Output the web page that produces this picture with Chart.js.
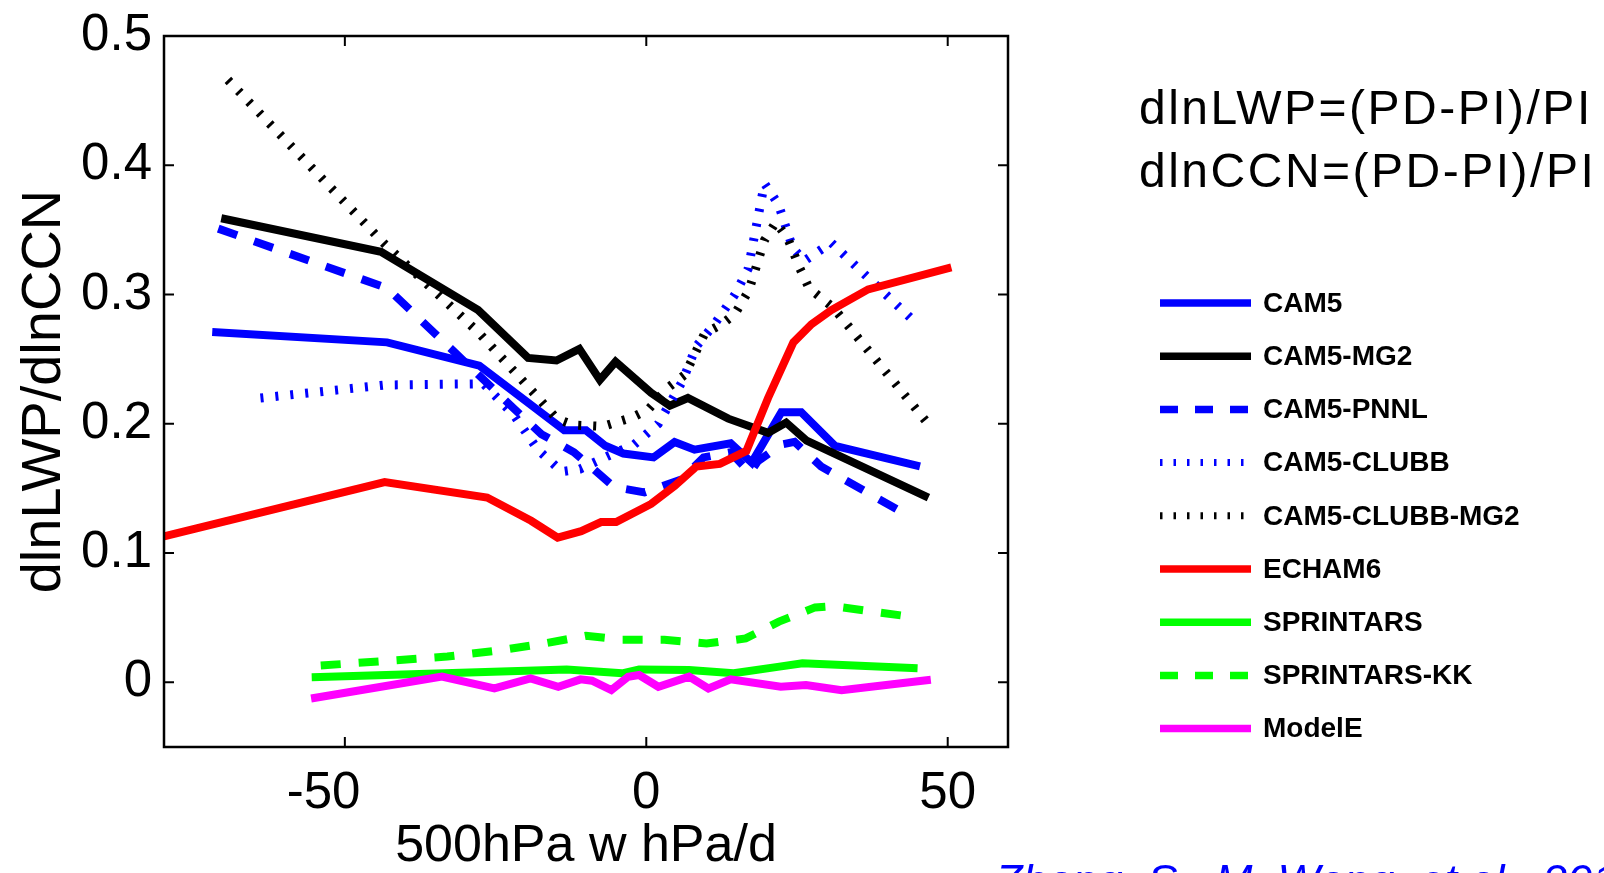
<!DOCTYPE html>
<html lang="en">
<head>
  <meta charset="UTF-8">
  <title>dlnLWP/dlnCCN vs 500hPa w</title>
  <style>
    html, body { margin: 0; padding: 0; background: #fff; overflow: hidden; }
    #chart { display: block; }
  </style>
</head>
<body>
  <canvas id="chart" width="1604" height="873"></canvas>

  <script src="https://cdn.jsdelivr.net/npm/chart.js"></script>
  <script>
    // Values (x = 500hPa omega in hPa/d, y = dlnLWP/dlnCCN)
    const cam5X = [-72, -43, -27.7, -13.6, -10, -6.8, -3.8, 1.2, 4.7, 8, 14, 17.5, 22.4, 25.7, 31.3, 45.4];
    const cam5Y = [0.271, 0.263, 0.245, 0.195, 0.195, 0.183, 0.177, 0.174, 0.186, 0.180, 0.185, 0.170, 0.209, 0.209, 0.183, 0.167];

    const mg2X = [-70.5, -44, -27.9, -19.6, -14.9, -11.1, -7.7, -5.1, 0.8, 3.9, 6.9, 13.6, 20.2, 23.2, 26.6, 46.8];
    const mg2Y = [0.359, 0.333, 0.288, 0.251, 0.249, 0.258, 0.234, 0.248, 0.224, 0.214, 0.220, 0.204, 0.193, 0.201, 0.187, 0.143];

    const pnnlX = [-71, -43, -22, -17.4, -12, -5.3, -0.3, 5.8, 9.5, 14, 17.2, 18.5, 22.4, 24.6, 29, 42.3];
    const pnnlY = [0.351, 0.305, 0.212, 0.192, 0.178, 0.151, 0.147, 0.157, 0.174, 0.178, 0.162, 0.171, 0.184, 0.186, 0.167, 0.132];

    const clubbX = [-64, -43.4, -27, -22, -18, -14, -11, -6.4, -2, 2, 6, 8.3, 11.3, 14.7, 16.9, 19.6, 21.9, 24.3, 26.2, 30.7, 36.8, 44.5];
    const clubbY = [0.220, 0.230, 0.231, 0.207, 0.180, 0.163, 0.165, 0.175, 0.184, 0.200, 0.233, 0.260, 0.277, 0.300, 0.320, 0.386, 0.370, 0.336, 0.326, 0.340, 0.313, 0.279];

    const clubbMg2X = [-69.4, -43.4, -27.7, -22, -18.3, -14.9, -12, -7.2, -2.3, 0.3, 3.6, 6.4, 9.7, 12.5, 14.7, 17, 19.6, 21.5, 23.5, 25.5, 27, 31, 46.4];
    const clubbMg2Y = [0.466, 0.339, 0.270, 0.241, 0.222, 0.204, 0.199, 0.198, 0.205, 0.211, 0.228, 0.238, 0.270, 0.277, 0.285, 0.303, 0.342, 0.356, 0.343, 0.320, 0.305, 0.290, 0.202];

    const echamX = [-80, -43.4, -26.4, -19.1, -14.7, -10.8, -7.5, -5, 0.8, 4.7, 8.3, 12.2, 16.6, 20.2, 24.4, 27.4, 30.7, 36.8, 50.6];
    const echamY = [0.113, 0.155, 0.143, 0.125, 0.112, 0.117, 0.124, 0.124, 0.138, 0.152, 0.167, 0.169, 0.179, 0.220, 0.263, 0.277, 0.288, 0.304, 0.321];

    const sprintarsX = [-55.5, -33.5, -13.2, -4, -1.2, 7.1, 14.5, 21.8, 25.9, 45];
    const sprintarsY = [0.004, 0.007, 0.010, 0.007, 0.010, 0.0095, 0.007, 0.012, 0.0148, 0.011];

    const kkX = [-54, -33, -24, -17, -10, -4, 3, 10, 16.5, 22, 28, 31, 45];
    const kkY = [0.013, 0.020, 0.025, 0.030, 0.036, 0.033, 0.033, 0.030, 0.034, 0.047, 0.058, 0.059, 0.050];

    const modelEX = [-55.6, -33.9, -25.2, -19.2, -14.6, -10.9, -9, -5.8, -3, -1.2, 2, 7.1, 10.3, 14, 22.3, 26.5, 32.4, 47.2];
    const modelEY = [-0.0125, 0.0044, -0.0047, 0.0031, -0.0034, 0.0023, 0.0013, -0.006, 0.0044, 0.0057, -0.0034, 0.0044, -0.0047, 0.0023, -0.0034, -0.002, -0.006, 0.002];

    const xTicks = [-50, 0, 50];
    const yTicks = [0, 0.1, 0.2, 0.3, 0.4, 0.5];

    const FONT = '"Liberation Sans", Arial, Helvetica, sans-serif';
    const SOLID = [];
    const DASH = [20, 18];
    const DOT = [3, 12];

    function pts(xs, ys) {
      return xs.map((x, i) => ({ x: x, y: ys[i] }));
    }

    // [label, xs, ys, colour, dash]
    const series = [
      ['CAM5', cam5X, cam5Y, '#0000ff', SOLID],
      ['CAM5-MG2', mg2X, mg2Y, '#000000', SOLID],
      ['CAM5-PNNL', pnnlX, pnnlY, '#0000ff', DASH],
      ['CAM5-CLUBB', clubbX, clubbY, '#0000ff', DOT],
      ['CAM5-CLUBB-MG2', clubbMg2X, clubbMg2Y, '#000000', DOT],
      ['ECHAM6', echamX, echamY, '#ff0000', SOLID],
      ['SPRINTARS', sprintarsX, sprintarsY, '#00ff00', SOLID],
      ['SPRINTARS-KK', kkX, kkY, '#00ff00', DASH],
      ['ModelE', modelEX, modelEY, '#ff00ff', SOLID]
    ];

    const datasets = series.map((s, i) => ({
      label: s[0],
      data: pts(s[1], s[2]),
      borderColor: s[3],
      backgroundColor: s[3],
      borderDash: s[4],
      borderWidth: s[4] === DOT ? 9 : 8,
      borderCapStyle: 'butt',
      pointRadius: 0,
      tension: 0,
      fill: false,
      order: series.length - i // later series drawn on top, like the original
    }));

    // frame, inward tick marks, legend and the annotation text
    const decorations = {
      id: 'decorations',
      afterDraw(chart) {
        const ctx = chart.ctx;
        const a = chart.chartArea;
        const xs = chart.scales.x, ys = chart.scales.y;
        ctx.save();
        ctx.strokeStyle = '#000';
        ctx.lineWidth = 2.5;
        ctx.setLineDash([]);
        ctx.strokeRect(a.left, a.top, a.right - a.left, a.bottom - a.top);
        ctx.lineWidth = 2;
        const tl = 10;
        ctx.beginPath();
        xTicks.forEach(v => {
          const px = xs.getPixelForValue(v);
          ctx.moveTo(px, a.bottom); ctx.lineTo(px, a.bottom - tl);
          ctx.moveTo(px, a.top); ctx.lineTo(px, a.top + tl);
        });
        yTicks.forEach(v => {
          const py = ys.getPixelForValue(v);
          ctx.moveTo(a.left, py); ctx.lineTo(a.left + tl, py);
          ctx.moveTo(a.right, py); ctx.lineTo(a.right - tl, py);
        });
        ctx.stroke();

        // legend
        const lx0 = 1160, lx1 = 1251, ly0 = 303, dy = 53.2;
        chart.data.datasets.forEach((ds, i) => {
          const y = ly0 + i * dy;
          ctx.strokeStyle = ds.borderColor;
          if (ds.borderDash === DOT) {
            ctx.lineWidth = 7;
            ctx.setLineDash([2.5, 11]);
          } else if (ds.borderDash === DASH) {
            ctx.lineWidth = 7.5;
            ctx.setLineDash([18, 17]);
          } else {
            ctx.lineWidth = 7.5;
            ctx.setLineDash([]);
          }
          ctx.lineCap = 'butt';
          ctx.beginPath();
          ctx.moveTo(lx0, y);
          ctx.lineTo(lx1, y);
          ctx.stroke();
          ctx.fillStyle = '#000';
          ctx.font = 'bold 28px ' + FONT;
          ctx.textAlign = 'left';
          ctx.textBaseline = 'middle';
          ctx.fillText(ds.label, 1263, y + 1);
        });

        // definitions
        ctx.setLineDash([]);
        ctx.fillStyle = '#000';
        ctx.font = '48px ' + FONT;
        ctx.textBaseline = 'alphabetic';
        ctx.letterSpacing = '2.5px';
        ctx.fillText('dlnLWP=(PD-PI)/PI', 1139, 124);
        ctx.fillText('dlnCCN=(PD-PI)/PI', 1139, 187);

        // citation, cut by the bottom edge as in the original
        ctx.letterSpacing = '0px';
        ctx.fillStyle = '#0000ff';
        ctx.font = 'italic 45px ' + FONT;
        ctx.fillText('Zhang, S., M. Wang, et al., 2016', 995, 896);
        ctx.restore();
      }
    };

    new Chart(document.getElementById('chart'), {
      type: 'line',
      data: { datasets: datasets },
      options: {
        responsive: false,
        animation: false,
        events: [],
        layout: { padding: { left: 0, top: 36, right: 596, bottom: 0 } },
        plugins: {
          legend: { display: false },
          tooltip: { enabled: false }
        },
        scales: {
          x: {
            type: 'linear',
            min: -80,
            max: 60,
            afterBuildTicks: s => { s.ticks = xTicks.map(v => ({ value: v })); },
            afterFit: s => { s.height = 126; s.paddingLeft = 0; s.paddingRight = 0; },
            grid: { display: false, drawTicks: false },
            border: { display: false },
            ticks: {
              color: '#000',
              padding: 16,
              font: { family: FONT, size: 51 },
              // the minus sign hangs to the left of the tick, as in the original
              callback: v => (v < 0 ? String(v) + '   ' : String(v))
            },
            title: {
              display: true,
              text: '500hPa w hPa/d',
              color: '#000',
              padding: 0,
              font: { family: FONT, size: 52, lineHeight: 1 }
            }
          },
          y: {
            type: 'linear',
            min: -0.05,
            max: 0.5,
            afterBuildTicks: s => { s.ticks = yTicks.map(v => ({ value: v })); },
            afterFit: s => { s.width = 164; s.paddingTop = 0; s.paddingBottom = 0; },
            grid: { display: false, drawTicks: false },
            border: { display: false },
            ticks: {
              color: '#000',
              padding: 12,
              font: { family: FONT, size: 51 },
              callback: v => String(Number(v.toFixed(2)))
            },
            title: {
              display: true,
              text: 'dlnLWP/dlnCCN',
              color: '#000',
              padding: { top: 17, bottom: 0 },
              font: { family: FONT, size: 56, lineHeight: 1 }
            }
          }
        }
      },
      plugins: [decorations]
    });
  </script>
</body>
</html>
